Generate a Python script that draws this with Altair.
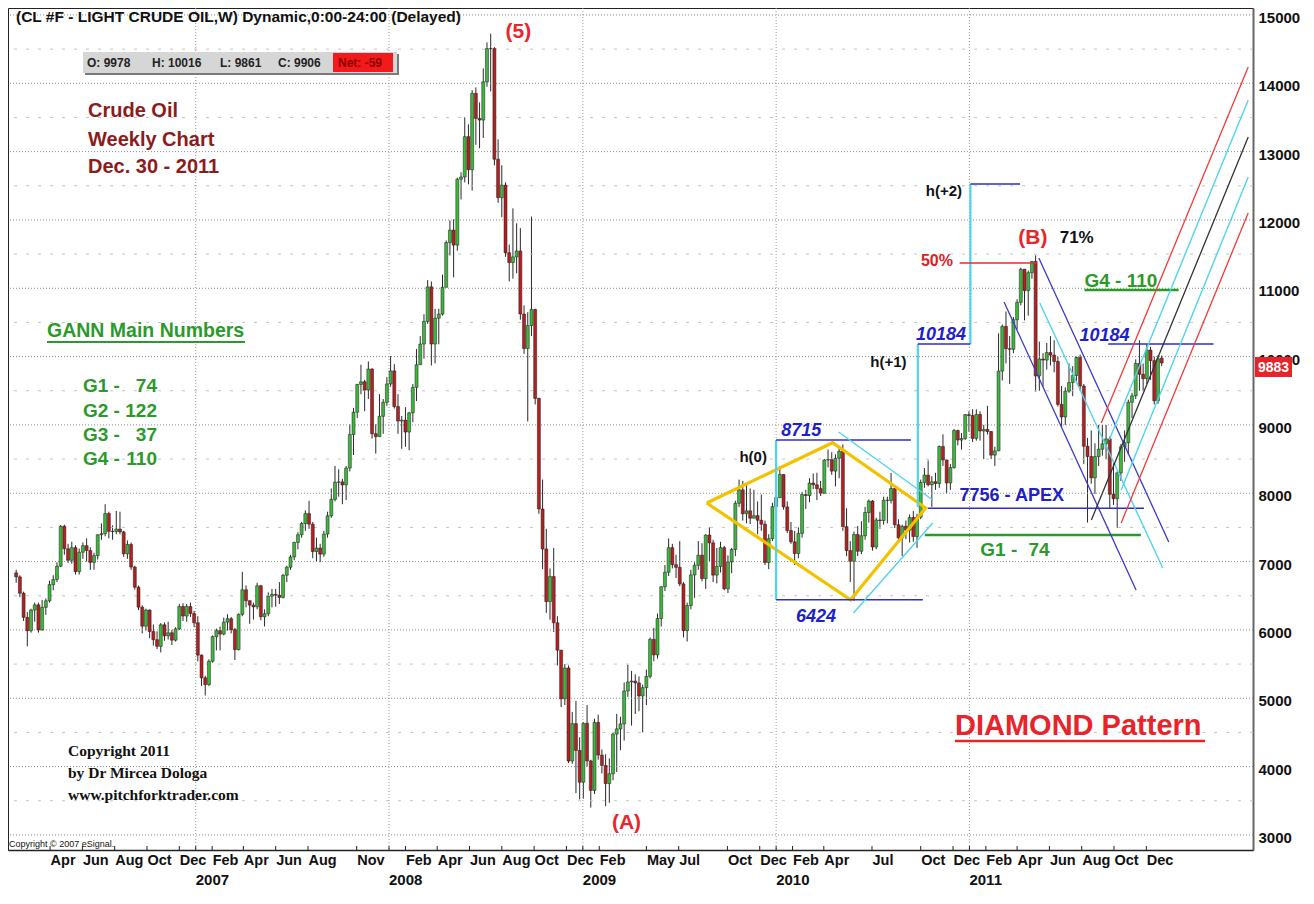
import altair as alt
import numpy as np
import pandas as pd

# ---------------- weekly OHLC data (price in cents) ----------------
FIRST_OPEN = 6835
LAST_OHLC = (9978, 10016, 9861, 9906)   # O H L C of the last bar (header box)

C06 = [6776,6537,6184,5988,6291,6367,6000,6330,6426,6663,6739,6932,7517,7188,7019,7204,6853,7137,7233,7163,6989,7087,7393,7409,7703,7443,7440,7476,7435,7114,7251,6920,6625,6333,6055,6291,5976,5857,5760,6075,5914,5958,5850,6015,6343,6203,6343,6241,6105]
H06 = [6880,6800,6560,6260,6310,6400,6400,6440,6460,6720,6800,6990,7535,7540,7260,7290,7240,7190,7280,7340,7210,7130,7400,7560,7840,7730,7530,7740,7730,7450,7310,7280,6940,6650,6360,6310,6300,6080,5980,6100,6110,6120,6000,6040,6380,6390,6380,6400,6280]
L06 = [6690,6480,6130,5760,5960,6120,5960,5990,6220,6400,6580,6700,6920,7100,6980,6970,6810,6810,7040,7000,6880,6880,7030,7320,7370,7340,7320,7400,7400,7070,7040,6880,6590,6290,5950,5990,5880,5770,5720,5670,5840,5860,5780,5830,6000,6130,6120,6190,6040]

C07 = [5631,5299,5199,5542,5902,5989,5939,6114,6164,6005,5711,6228,6587,6428,6363,6338,6646,6193,6237,6494,6520,6508,6476,6800,6918,7068,7281,7393,7557,7702,7548,7147,7198,7109,7404,7670,7910,8162,8166,8122,8369,8860,9186,9593,9632,9510,9818,8871,8828,9127,9331,9600]
H07 = [6200,5640,5330,5570,5920,6020,6050,6180,6230,6190,6030,6240,6850,6650,6430,6400,6690,6660,6300,6550,6600,6600,6700,6820,6940,7100,7290,7430,7580,7750,7890,7580,7350,7260,7450,7730,8070,8400,8350,8210,8400,9010,9250,9600,9880,9660,9929,9830,9010,9450,9380,9700]
L07 = [5540,5180,5040,5180,5520,5700,5700,5920,5990,5950,5560,5700,6200,6330,6090,6150,6300,6140,6050,6200,6330,6340,6380,6460,6700,6880,7020,7180,7350,7450,7480,7050,7000,6990,7070,7350,7640,7880,7950,7840,7900,8320,8560,9100,9450,9200,9380,8800,8580,8840,8870,9280]

C08 = [9791,9269,9057,9071,8896,9177,9550,9881,10184,10515,11021,10184,10562,10623,11014,11669,11852,11632,12596,12629,13219,12735,13854,13486,13462,14021,14508,14508,12888,12326,12510,11520,11377,11459,11546,10623,10118,10455,10689,9388,7770,7185,6415,6781,6104,5704,4993,5443,4081,4628,4236,3771]
H08 = [10009,9890,9450,9130,9260,9190,9600,10110,10300,10620,11120,11100,10700,10700,11200,11700,11993,12010,12620,12698,13502,13400,13900,13940,13720,14217,14599,14727,14530,13180,12800,12550,11640,12170,11950,11880,10750,10650,12050,10700,9400,8200,7480,6900,7200,6200,5650,5500,5480,4800,4960,4430]
L08 = [9560,9240,8870,8650,8680,8630,9040,9350,9880,9970,10480,9870,9900,10180,10600,11050,11480,11160,11550,12300,12550,12520,12430,13100,13050,13200,13950,13880,12800,12250,12040,11460,11100,11140,11220,10540,10040,9050,10300,9300,7700,6890,6250,6150,5970,5480,4870,4900,4050,4040,3610,3520]

C09 = [4634,4083,3651,4647,4168,4017,3751,3894,4476,4552,4625,5106,5238,5251,5224,5033,5155,5320,5863,5634,6167,6631,6844,7204,6955,6916,6673,5989,6356,6805,6945,7093,6751,7389,7274,6802,6929,7204,6602,6995,7177,7853,8050,7700,7743,7635,7672,7605,7547,6987,7336,7805]
H09 = [4650,4900,4100,4700,4760,4250,4180,4120,4500,4770,4730,5230,5490,5400,5350,5320,5200,5420,5890,6030,6240,6640,6950,7338,7260,7100,7300,6700,6400,6880,6990,7300,7270,7400,7500,7320,7200,7290,7230,7090,7200,7890,8200,8180,8150,8070,8050,7880,7980,7600,7400,7860]
L09 = [3530,4000,3400,3600,4100,3900,3420,3470,3800,3920,4240,4380,5020,4600,4770,4810,4500,4900,5290,5540,5580,6050,6570,6790,6900,6760,6640,5890,5830,6300,6470,6880,6710,6600,7000,6700,6680,6840,6580,6540,6830,7080,7800,7600,7560,7550,7630,7400,7450,6950,6890,7300]

C10 = [7936,8275,7800,7454,7289,7119,7413,7981,7966,8150,8124,8068,8000,8487,8492,8324,8512,8615,7511,7161,7004,7397,7151,7378,7718,7886,7214,7609,7601,7898,7895,8070,7539,7346,7517,7460,7645,7366,7649,8158,8266,8125,8169,8143,8685,8488,8151,8376,8919,8779,8802,9151,9138]
H10 = [7950,8395,8280,7880,7580,7450,7500,8020,8050,8220,8290,8300,8180,8500,8640,8600,8570,8690,8715,7780,7300,7440,7520,7590,7800,7910,7900,7640,7730,7950,7950,8297,8090,7620,7540,7600,7690,7740,7700,8200,8370,8480,8250,8300,8700,8863,8490,8430,8940,8930,8880,9160,9200]
L10 = [7700,7930,7760,7420,7260,6950,7050,7350,7770,7870,8060,7900,7960,8000,8380,8270,8100,8220,7450,7080,6700,6424,7080,7110,7320,7570,7160,7180,7480,7540,7560,7850,7490,7320,7080,7330,7280,7290,7200,7620,8080,8100,7800,8050,8080,8400,8000,8050,8360,8700,8640,8780,8900]

C11 = [8803,9154,8911,8934,8903,8558,8620,9788,10442,10116,10107,10540,10794,11279,10966,11229,11393,9718,9965,9949,10059,10022,9929,9301,9116,9494,9620,9724,9987,9570,8688,8538,8226,8537,8645,8724,8796,7985,7920,8298,8680,8740,9332,9426,9899,9741,9677,10096,9941,9353,9968,9906]
H11 = [9230,9229,9200,9000,9280,8910,8680,10341,10470,10660,10300,10580,10840,11300,11220,11260,11400,11483,10220,10050,10200,10300,10240,10000,9570,9550,9900,9860,10000,10030,9600,8810,8920,8730,9000,9000,9000,8830,8450,8320,8720,8920,9370,9470,9960,10240,9900,10184,10144,10000,10020,10016]
L11 = [8750,8770,8770,8500,8860,8500,8400,8620,9650,9900,9601,10050,10400,10750,10530,10600,11140,9488,9500,9560,9810,9870,9770,9270,8970,9000,9470,9420,9620,9500,8430,7571,8140,7990,8400,8550,8500,7780,7830,7495,8180,8460,8560,9100,9380,9500,9500,9600,9660,9300,9310,9861]

# axis labels
PRICE_TICKS = list(range(3000, 15001, 1000))
MONTH_TICKS = [(2006,4),(2006,6),(2006,8),(2006,10),(2006,12),(2007,2),(2007,4),(2007,6),(2007,8),(2007,11),
               (2008,2),(2008,4),(2008,6),(2008,8),(2008,10),(2008,12),(2009,2),(2009,5),(2009,7),(2009,10),
               (2009,12),(2010,2),(2010,4),(2010,7),(2010,10),(2010,12),(2011,2),(2011,4),(2011,6),(2011,8),
               (2011,10),(2011,12)]
YEAR_LABELS = [2007, 2008, 2009, 2010, 2011]

# annotation geometry in data units: (decimal year, price)
SEGMENTS = [
    ("#F2C200", 3.2, [(2009.641,7858),(2010.292,8740),(2010.774,7785),(2010.385,6440),(2009.641,7858)]),
    ("#4FD4EC", 2.2, [(2010.0,8780),(2010.0,6440)]),
    ("#4FD4EC", 2.2, [(2010.733,7800),(2010.733,10185)]),
    ("#4FD4EC", 2.2, [(2011.005,10185),(2011.005,12527)]),
    ("#2E2EC8", 1.5, [(2010.0,8780),(2010.697,8780)]),
    ("#2E2EC8", 1.5, [(2010.0,6440),(2010.759,6440)]),
    ("#2E2EC8", 1.5, [(2010.733,10185),(2011.005,10185)]),
    ("#2E2EC8", 1.5, [(2011.005,12527),(2011.262,12527)]),
    ("#2E2EC8", 1.5, [(2010.785,7780),(2011.903,7780)]),
    ("#2E2EC8", 1.5, [(2011.718,10185),(2012.262,10185)]),
    ("#E03030", 1.5, [(2010.949,11371),(2011.349,11371)]),
    ("#2A9A2A", 2.5, [(2010.769,7390),(2011.887,7390)]),
    ("#2A9A2A", 2.5, [(2011.595,10975),(2012.082,10975)]),
    ("#3A3ACC", 1.3, [(2011.359,11444),(2012.031,7288)]),
    ("#3A3ACC", 1.3, [(2011.179,10800),(2011.862,6585)]),
    ("#4FD4EC", 1.4, [(2011.364,10785),(2012.0,6907)]),
    ("#4FD4EC", 1.4, [(2010.323,8897),(2010.810,7902)]),
    ("#4FD4EC", 1.4, [(2010.400,6248),(2010.810,7566)]),
    ("#333333", 1.3, [(2011.631,7610),(2012.441,13215)]),
    ("#F03A3A", 1.3, [(2011.682,9029),(2012.441,14239)]),
    ("#F03A3A", 1.3, [(2011.785,7566),(2012.441,12102)]),
    ("#4FD4EC", 1.4, [(2011.723,8780),(2012.441,13756)]),
    ("#4FD4EC", 1.4, [(2011.785,8049),(2012.441,12629)]),
]

# text annotations tied to data: (text, decimal year, price, color, size, align, style)
TEXTS = [
    ("(5)", 2008.667, 14664, "#E8262B", 21, "center", "normal"),
    ("(A)", 2009.226, 3087, "#E8262B", 21, "center", "normal"),
    ("(B)", 2011.328, 11649, "#E8262B", 21, "center", "normal"),
    ("71%", 2011.467, 11663, "#111111", 17, "left", "normal"),
    ("h(0)", 2009.810, 8458, "#111111", 15, "left", "normal"),
    ("h(+1)", 2010.487, 9849, "#111111", 15, "left", "normal"),
    ("h(+2)", 2010.774, 12351, "#111111", 15, "left", "normal"),
    ("8715", 2010.026, 8839, "#2020C8", 18, "left", "italic"),
    ("6424", 2010.103, 6117, "#2020C8", 18, "left", "italic"),
    ("10184", 2010.723, 10244, "#2020C8", 18, "left", "italic"),
    ("10184", 2011.569, 10229, "#2020C8", 18, "left", "italic"),
    ("50%", 2010.749, 11327, "#E02020", 16, "left", "normal"),
    ("7756 - APEX", 2010.949, 7888, "#2020C8", 18, "left", "normal"),
    ("G1 -", 2011.056, 7083, "#2A9A2A", 19, "left", "normal"),
    ("74", 2011.415, 7083, "#2A9A2A", 19, "right", "normal"),
    ("G4 - 110", 2011.595, 11019, "#2A9A2A", 19, "left", "normal"),
]

GANN = [("G1 -", "74"), ("G2 -", "122"), ("G3 -", "37"), ("G4 -", "110")]

# ---------------- build tables ----------------
closes = C06 + C07 + C08 + C09 + C10 + C11
highs = H06 + H07 + H08 + H09 + H10 + H11
lows = L06 + L07 + L08 + L09 + L10 + L11
dates = pd.date_range("2006-01-27", periods=len(closes), freq="7D")
opens = [FIRST_OPEN] + closes[:-1]
opens[-1] = LAST_OHLC[0]
df = pd.DataFrame({"date": dates, "open": opens, "high": highs, "low": lows, "close": closes})
df["high"] = df[["high", "open", "close"]].max(axis=1)
df["low"] = df[["low", "open", "close"]].min(axis=1)
df["dir"] = np.where(df["close"] >= df["open"], "up", "down")


def yr(v):
    y = int(v)
    a = pd.Timestamp(year=y, month=1, day=1)
    b = pd.Timestamp(year=y + 1, month=1, day=1)
    return a + (b - a) * (v - y)


rows = []
for i, (col, w, pts) in enumerate(SEGMENTS):
    for j, (t, p) in enumerate(pts):
        rows.append({"id": i, "ord": j, "date": yr(t), "price": p, "color": col, "w": w})
seg_df = pd.DataFrame(rows)

# ---------------- scales / axes ----------------
W, H = 1245, 842
FONT = "Liberation Sans"
xs = alt.Scale(domain=[alt.DateTime(year=2006, month=1, date=21), alt.DateTime(year=2012, month=6, date=10)])
ys = alt.Scale(domain=[2779, 15102], nice=False, zero=False)

x_axis = alt.Axis(
    values=[alt.DateTime(year=y, month=m, date=1) for (y, m) in MONTH_TICKS],
    format="%b", labelAlign="left", labelBaseline="top", labelPadding=3,
    labelFont=FONT, labelFontSize=14.5, labelFontWeight="bold", labelColor="#111",
    ticks=False, domainColor="#222", domainWidth=1.5, grid=False, title=None,
    labelOverlap=False, labelFlush=False)
y_axis = alt.Axis(
    orient="right", values=PRICE_TICKS, format="d", labelFont=FONT, labelFontSize=15,
    labelFontWeight="bold", labelColor="#111", labelPadding=5, labelOffset=2.5, ticks=False,
    domainColor="#666", domainWidth=2, grid=False, title=None, labelFlush=False, labelOverlap=False)


def X(field="date"):
    return alt.X(field, type="temporal", scale=xs, axis=x_axis)


def Y(field="price"):
    return alt.Y(field, type="quantitative", scale=ys, axis=y_axis)


one = pd.DataFrame({"k": [0]})


def ptext(x, y, s, color, size, align="left", weight="bold", font=FONT, style="normal"):
    return alt.Chart(pd.DataFrame({"label": [s]})).mark_text(
        align=align, baseline="alphabetic", color=color, fontSize=size,
        fontWeight=weight, font=font, fontStyle=style
    ).encode(x=alt.value(x), y=alt.value(y), text="label:N")


def prect(x1, y1, x2, y2, fill):
    return alt.Chart(one).mark_rect(color=fill).encode(
        x=alt.value(x1), x2=alt.value(x2), y=alt.value(y1), y2=alt.value(y2))


def pline(x1, y1, x2, y2, color, w):
    return alt.Chart(one).mark_rule(color=color, strokeWidth=w).encode(
        x=alt.value(x1), x2=alt.value(x2), y=alt.value(y1), y2=alt.value(y2))


# ---------------- layers ----------------
major = alt.Chart(pd.DataFrame({"price": PRICE_TICKS})).mark_rule(
    color="#8c8c8c", strokeWidth=1, strokeDash=[1, 2]).encode(y=Y())
minor = alt.Chart(pd.DataFrame({"price": [p + 500 for p in PRICE_TICKS[:-1]]})).mark_rule(
    color="#c4c4c4", strokeWidth=1, strokeDash=[3, 9]).encode(y=Y())
yearlines = alt.Chart(pd.DataFrame({"date": [pd.Timestamp(year=y, month=1, day=1) for y in YEAR_LABELS]})).mark_rule(
    color="#9a9a9a", strokeWidth=1, strokeDash=[1, 2]).encode(x=X())

tick_dates = [pd.Timestamp(year=y, month=m, day=1) for (y, m) in MONTH_TICKS] + \
             [pd.Timestamp(year=y, month=1, day=1) for y in YEAR_LABELS]
ticks = alt.Chart(pd.DataFrame({"date": tick_dates})).mark_rule(color="#222", strokeWidth=1).encode(
    x=X(), y=alt.value(H - 4), y2=alt.value(H))

wicks = alt.Chart(df).mark_rule(color="#2a2a2a", strokeWidth=1).encode(
    x=X(), y=Y("low"), y2="high:Q")
bodies = alt.Chart(df).mark_bar(size=3, stroke="#1a1a1a", strokeWidth=0.5).encode(
    x=X(), y=Y("open"), y2="close:Q",
    color=alt.Color("dir:N", scale=alt.Scale(domain=["up", "down"], range=["#3DB83D", "#B52020"]), legend=None))

seglayer = alt.Chart(seg_df).mark_line(clip=True, strokeCap="butt").encode(
    x=X(), y=Y(), detail="id:N", order="ord:Q",
    color=alt.Color("color:N", scale=None),
    strokeWidth=alt.StrokeWidth("w:Q", scale=None))

text_layers = []
for (s, t, p, col, size, align, style) in TEXTS:
    d = pd.DataFrame({"date": [yr(t)], "price": [p], "label": [s]})
    text_layers.append(alt.Chart(d).mark_text(
        align=align, baseline="alphabetic", color=col, fontSize=size, fontWeight="bold",
        fontStyle=style, font=FONT).encode(x=X(), y=Y(), text="label:N"))

years = alt.Chart(pd.DataFrame({"date": [pd.Timestamp(year=y, month=1, day=1) for y in YEAR_LABELS],
                                "label": [str(y) for y in YEAR_LABELS]})).mark_text(
    align="left", baseline="alphabetic", fontSize=15, fontWeight="bold", font=FONT, color="#111").encode(
    x=X(), y=alt.value(H + 35), text="label:N")

# fixed overlays (pixel positions)
overlays = [
    ptext(8, 14, "(CL #F - LIGHT CRUDE OIL,W) Dynamic,0:00-24:00 (Delayed)", "#111", 15.5),
    prect(77, 46, 391, 67, "#7a7a7a"),
    prect(75, 44, 389, 65, "#D6D6D6"),
    prect(325, 45, 385, 64, "#F21A1A"),
    ptext(79, 59, "O: 9978", "#222", 12),
    ptext(144, 59, "H: 10016", "#222", 12),
    ptext(212, 59, "L: 9861", "#222", 12),
    ptext(270, 59, "C: 9906", "#222", 12),
    ptext(330, 59, "Net: -59", "#8B0000", 12),
    ptext(80, 109, "Crude Oil", "#8C1C1C", 20),
    ptext(80, 138, "Weekly Chart", "#8C1C1C", 20),
    ptext(80, 165, "Dec. 30 - 2011", "#8C1C1C", 20),
    ptext(39, 329, "GANN Main Numbers", "#2A9A2A", 19.5),
    pline(39, 334, 237, 334, "#2A9A2A", 2),
    ptext(60, 748, "Copyright 2011", "#111", 15.5, font="Liberation Serif"),
    ptext(60, 770, "by Dr Mircea Dologa", "#111", 15.5, font="Liberation Serif"),
    ptext(60, 792, "www.pitchforktrader.com", "#111", 15.5, font="Liberation Serif"),
    ptext(1, 839, "Copyright \u00a9 2007 eSignal.", "#111", 9, weight="normal"),
    ptext(947, 727, "DIAMOND Pattern", "#E8232A", 29),
    pline(947, 733, 1197, 733, "#E8232A", 2.5),
    prect(1247, 349, 1284, 369, "#E8232A"),
    ptext(1265.5, 364, "9883", "#FFFFFF", 14, align="center"),
]
gann_baselines = [384, 409, 433, 457]
for (a, b), yb in zip(GANN, gann_baselines):
    overlays.append(ptext(75, yb, a, "#2A9A2A", 19))
    overlays.append(ptext(149, yb, b, "#2A9A2A", 19, align="right"))

chart = alt.layer(
    wicks, minor, major, yearlines, bodies, seglayer, ticks, years, *text_layers, *overlays
).properties(
    width=W, height=H,
    padding={"left": 0, "top": 0, "right": 53, "bottom": 38},
    autosize=alt.AutoSizeParams(type="none"),
    background="white",
).configure_view(stroke="#222", strokeWidth=1)

chart.save("out.html", embed_options={"renderer": "svg", "actions": False})
